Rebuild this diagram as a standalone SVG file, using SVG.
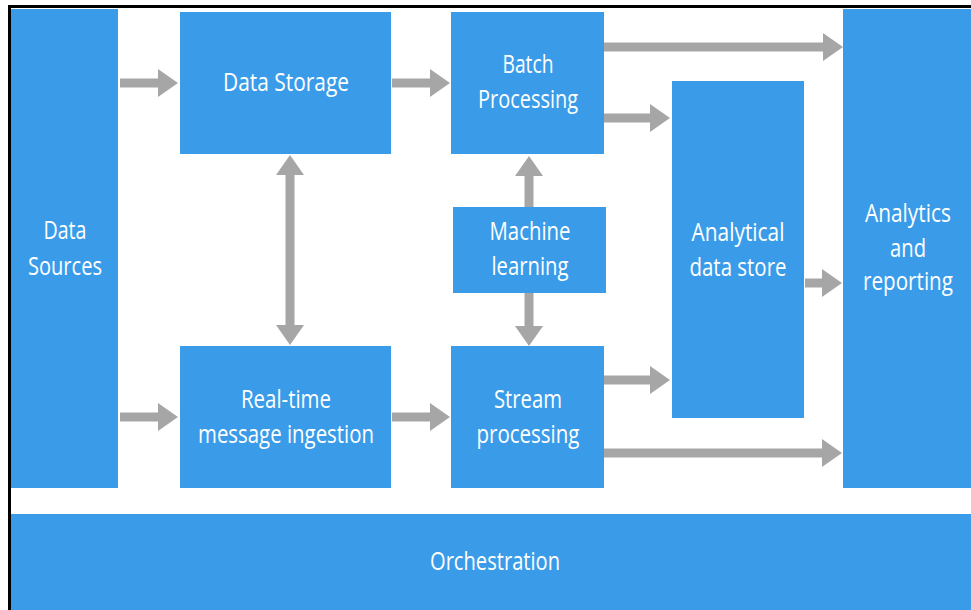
<svg xmlns="http://www.w3.org/2000/svg" width="971" height="610" viewBox="0 0 971 610">
<defs>
<style>
.box{fill:#3a9ce9}
.lbl{fill:#ffffff;font-family:"Open Sans","Noto Sans","Liberation Sans",sans-serif;font-size:26px;font-weight:500;text-anchor:middle}
.arr{stroke:#a6a6a6;stroke-width:9;fill:none}
</style>
<marker id="head" markerUnits="userSpaceOnUse" markerWidth="20" markerHeight="28" refX="10" refY="14" orient="auto-start-reverse" viewBox="0 0 20 28">
<path d="M0,0 L20,14 L0,28 z" fill="#a6a6a6"/>
</marker>
</defs>
<rect x="0" y="0" width="971" height="610" fill="#ffffff"/>
<path d="M9.5,610 V6.5 H971" fill="none" stroke="#000000" stroke-width="3"/>

<g id="connectors">
<line class="arr" x1="120" y1="83" x2="168" y2="83" marker-end="url(#head)"/>
<line class="arr" x1="392" y1="83" x2="440" y2="83" marker-end="url(#head)"/>
<line class="arr" x1="604" y1="47" x2="833" y2="47" marker-end="url(#head)"/>
<line class="arr" x1="604" y1="118" x2="660" y2="118" marker-end="url(#head)"/>
<line class="arr" x1="805" y1="283" x2="832" y2="283" marker-end="url(#head)"/>
<line class="arr" x1="604" y1="380" x2="660" y2="380" marker-end="url(#head)"/>
<line class="arr" x1="604" y1="453" x2="832" y2="453" marker-end="url(#head)"/>
<line class="arr" x1="120" y1="417" x2="168" y2="417" marker-end="url(#head)"/>
<line class="arr" x1="392" y1="417" x2="440" y2="417" marker-end="url(#head)"/>
<line class="arr" x1="290" y1="165" x2="290" y2="335" marker-start="url(#head)" marker-end="url(#head)"/>
<line class="arr" x1="529" y1="207" x2="529" y2="166" marker-end="url(#head)"/>
<line class="arr" x1="529" y1="293" x2="529" y2="336" marker-end="url(#head)"/>
</g>

<g id="data-sources">
<rect class="box" x="11" y="9" width="107" height="479"/>
<text class="lbl" x="65" y="239" textLength="43" lengthAdjust="spacingAndGlyphs">Data</text>
<text class="lbl" x="65" y="275" textLength="74" lengthAdjust="spacingAndGlyphs">Sources</text>
</g>

<g id="data-storage">
<rect class="box" x="180" y="12" width="211" height="142"/>
<text class="lbl" x="286" y="91" textLength="126" lengthAdjust="spacingAndGlyphs">Data Storage</text>
</g>

<g id="batch-processing">
<rect class="box" x="451" y="12" width="153" height="142"/>
<text class="lbl" x="528" y="73" textLength="51" lengthAdjust="spacingAndGlyphs">Batch</text>
<text class="lbl" x="528" y="108" textLength="100" lengthAdjust="spacingAndGlyphs">Processing</text>
</g>

<g id="machine-learning">
<rect class="box" x="453" y="207" width="153" height="86"/>
<text class="lbl" x="530" y="240" textLength="81" lengthAdjust="spacingAndGlyphs">Machine</text>
<text class="lbl" x="530" y="275" textLength="77" lengthAdjust="spacingAndGlyphs">learning</text>
</g>

<g id="real-time-ingestion">
<rect class="box" x="180" y="346" width="211" height="142"/>
<text class="lbl" x="286" y="408" textLength="90" lengthAdjust="spacingAndGlyphs">Real-time</text>
<text class="lbl" x="286" y="443" textLength="176" lengthAdjust="spacingAndGlyphs">message ingestion</text>
</g>

<g id="stream-processing">
<rect class="box" x="451" y="346" width="153" height="142"/>
<text class="lbl" x="528" y="408" textLength="68" lengthAdjust="spacingAndGlyphs">Stream</text>
<text class="lbl" x="528" y="443" textLength="103" lengthAdjust="spacingAndGlyphs">processing</text>
</g>

<g id="analytical-data-store">
<rect class="box" x="672" y="81" width="132" height="337"/>
<text class="lbl" x="738" y="241" textLength="93" lengthAdjust="spacingAndGlyphs">Analytical</text>
<text class="lbl" x="738" y="276" textLength="97" lengthAdjust="spacingAndGlyphs">data store</text>
</g>

<g id="analytics-reporting">
<rect class="box" x="843" y="9" width="128" height="479"/>
<text class="lbl" x="908" y="222" textLength="86" lengthAdjust="spacingAndGlyphs">Analytics</text>
<text class="lbl" x="908" y="257" textLength="36" lengthAdjust="spacingAndGlyphs">and</text>
<text class="lbl" x="908" y="290" textLength="90" lengthAdjust="spacingAndGlyphs">reporting</text>
</g>

<g id="orchestration">
<rect class="box" x="11" y="514" width="960" height="96"/>
<text class="lbl" x="495" y="570" textLength="130" lengthAdjust="spacingAndGlyphs">Orchestration</text>
</g>
</svg>
